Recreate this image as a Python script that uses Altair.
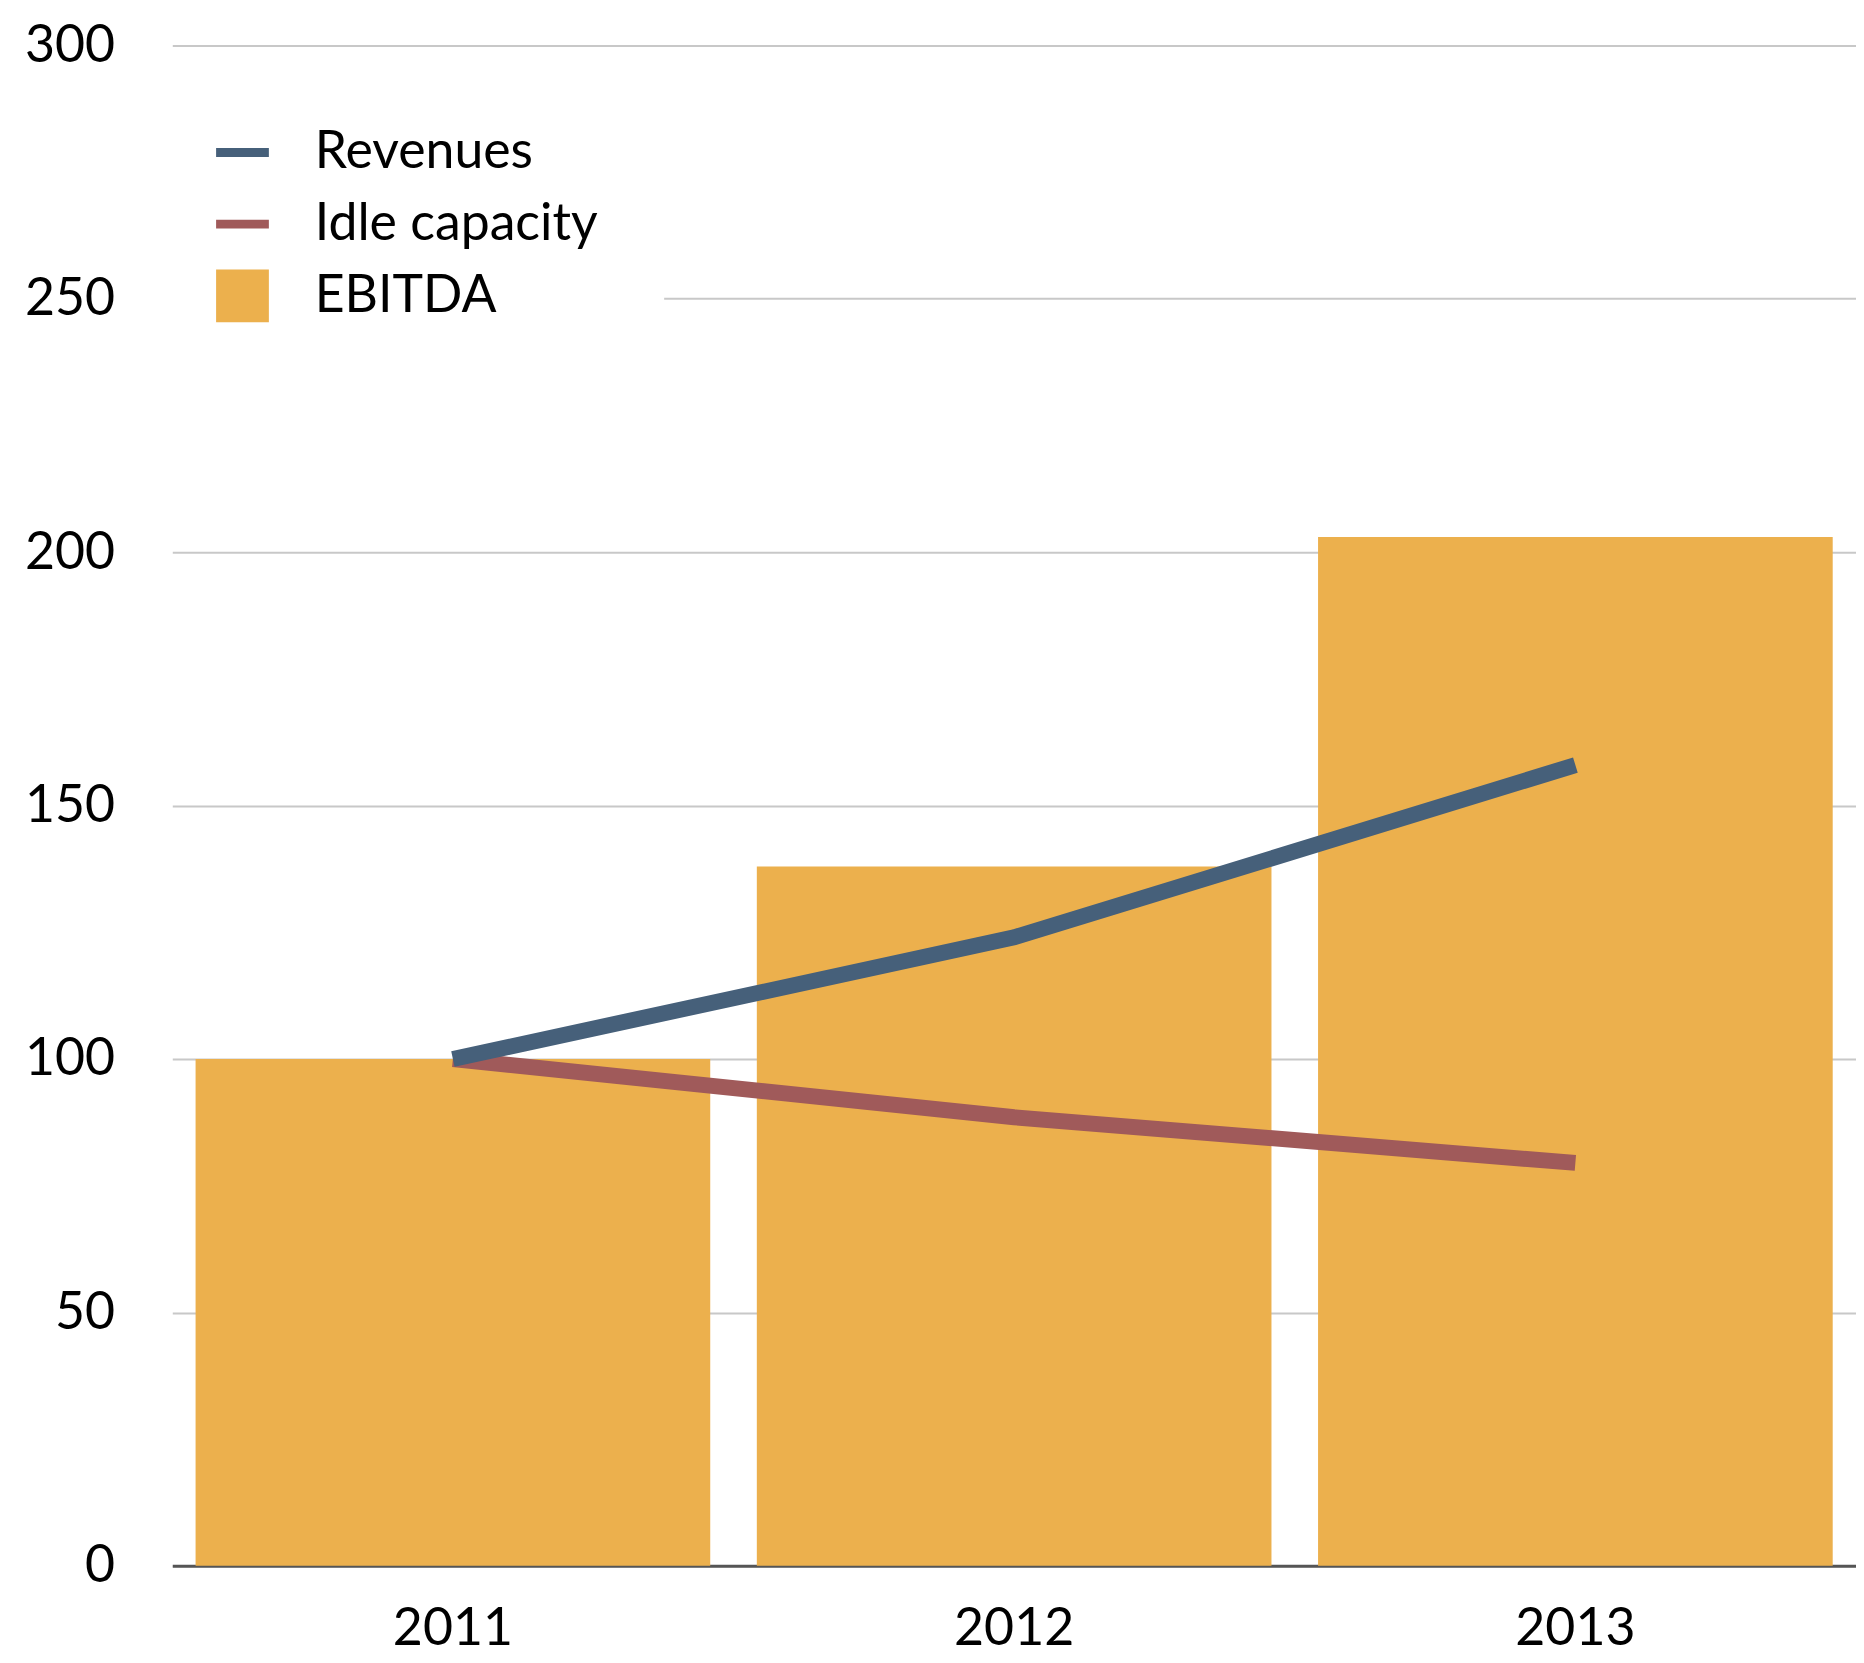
import altair as alt
import pandas as pd

# ---- data ----
years = ["2011", "2012", "2013"]
ebitda = [100, 138, 203]
revenues = [100, 124, 158]
idle_capacity = [100, 88.5, 79.5]

series_names = ["Revenues", "Idle capacity", "EBITDA"]
series_colors = ["#46607a", "#a05a5a", "#ecb04d"]
y_ticks = [0, 50, 100, 150, 200, 250, 300]

rows = []
for name, vals in [("EBITDA", ebitda), ("Idle capacity", idle_capacity), ("Revenues", revenues)]:
    for yr, v in zip(years, vals):
        rows.append({"year": yr, "series": name, "value": v})
df = pd.DataFrame(rows)

FONT = "Lato"
FS = 52

x_enc = alt.X(
    "year:N",
    sort=years,
    scale=alt.Scale(paddingInner=0.083, paddingOuter=0.0415),
    axis=alt.Axis(
        title=None, labelAngle=0, ticks=False, tickSize=0, grid=False,
        domain=True, domainColor="#555555", domainWidth=3,
        labelPadding=38, labelFont=FONT, labelFontSize=FS, labelColor="black",
    ),
)
y_enc = alt.Y(
    "value:Q",
    scale=alt.Scale(domain=[0, 300], nice=False),
    axis=alt.Axis(
        title=None, values=y_ticks, grid=True, gridColor="#c8c8c8", gridWidth=2,
        domain=False, ticks=False, tickSize=0, labelPadding=58,
        labelFont=FONT, labelFontSize=FS, labelColor="black",
    ),
)

bars = alt.Chart(df).transform_filter("datum.series == 'EBITDA'").mark_bar(
    color=series_colors[2]
).encode(x=x_enc, y=y_enc)
line_idle = alt.Chart(df).transform_filter("datum.series == 'Idle capacity'").mark_line(
    strokeWidth=16, strokeCap="butt", color=series_colors[1]
).encode(x=x_enc, y=y_enc)
line_rev = alt.Chart(df).transform_filter("datum.series == 'Revenues'").mark_line(
    strokeWidth=16, strokeCap="butt", color=series_colors[0]
).encode(x=x_enc, y=y_enc)

line_path = "M-1,-0.17H1V0.17H-1Z"
square_path = "M-1,-1H1V1H-1Z"

legend = alt.Legend(
    orient="none", legendX=-22, legendY=15, title=None,
    fillColor="white", padding=66, symbolSize=2809, symbolStrokeWidth=0,
    labelFont=FONT, labelFontSize=FS, labelColor="black", labelOffset=46,
    labelLimit=2000, rowPadding=19,
)
legend_layer = alt.Chart(df).transform_filter("false").mark_point(filled=True, opacity=1).encode(
    x=x_enc, y=y_enc,
    color=alt.Color("series:N", scale=alt.Scale(domain=series_names, range=series_colors),
                    legend=legend),
    shape=alt.Shape("series:N", scale=alt.Scale(domain=series_names,
                                                range=[line_path, line_path, square_path]),
                    legend=legend),
)

chart = alt.layer(bars, line_idle, line_rev, legend_layer).properties(
    width=1691, height=1527,
    padding={"left": 165, "top": 34, "right": 0, "bottom": 86},
    autosize=alt.AutoSizeParams(type="none"),
    background="white",
).configure_view(stroke=None)

chart.save("out.html", embed_options={"renderer": "svg", "actions": False})
